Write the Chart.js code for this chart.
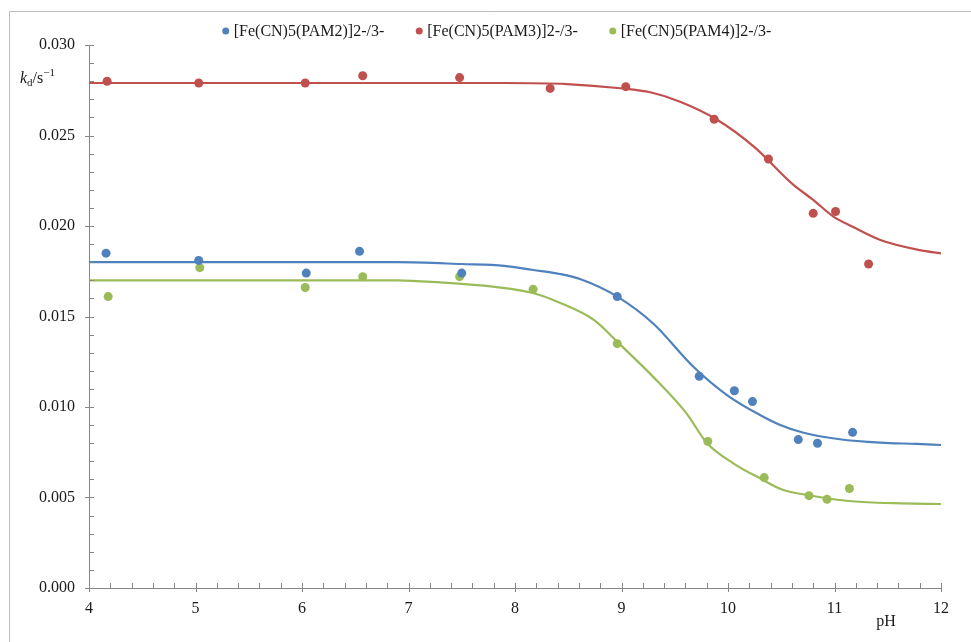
<!DOCTYPE html>
<html>
<head>
<meta charset="utf-8">
<script src="https://cdn.jsdelivr.net/npm/chart.js@4/dist/chart.umd.min.js"></script>
<style>
  html, body { margin: 0; padding: 0; background: #ffffff; }
  #wrap { width: 971px; height: 642px; }
</style>
</head>
<body>
<div id="wrap"><canvas id="c" width="971" height="642"></canvas></div>
<script>
// ---- Data ----
const seriesNames = ['[Fe(CN)5(PAM2)]2-/3-', '[Fe(CN)5(PAM3)]2-/3-', '[Fe(CN)5(PAM4)]2-/3-'];
const seriesColors = ['#4f81bd', '#c0504d', '#9bbb59'];

// measured points
const phPAM2 = [4.16, 5.03, 6.04, 6.54, 7.50, 8.96, 9.73, 10.06, 10.23, 10.66, 10.84, 11.17];
const kPAM2  = [0.0185, 0.0181, 0.0174, 0.0186, 0.0174, 0.0161, 0.0117, 0.0109, 0.0103, 0.0082, 0.0080, 0.0086];

const phPAM3 = [4.17, 5.03, 6.03, 6.57, 7.48, 8.33, 9.04, 9.87, 10.38, 10.80, 11.01, 11.32];
const kPAM3  = [0.0280, 0.0279, 0.0279, 0.0283, 0.0282, 0.0276, 0.0277, 0.0259, 0.0237, 0.0207, 0.0208, 0.0179];

const phPAM4 = [4.18, 5.04, 6.03, 6.57, 7.48, 8.17, 8.96, 9.81, 10.34, 10.76, 10.93, 11.14];
const kPAM4  = [0.0161, 0.0177, 0.0166, 0.0172, 0.0172, 0.0165, 0.0135, 0.0081, 0.0061, 0.0051, 0.0049, 0.0055];

// fitted curves
const fitPhPAM2 = [4.0, 6.9, 7.5, 7.9, 8.17, 8.42, 8.61, 8.96, 9.30, 9.67, 9.99, 10.30, 10.49, 10.71, 11.05, 11.43, 11.77, 12.0];
const fitKPAM2  = [0.0180, 0.0180, 0.0179, 0.0178, 0.01757, 0.01735, 0.01707, 0.01610, 0.01460, 0.01225, 0.01066, 0.00956, 0.00901, 0.00858, 0.00822, 0.00803, 0.00796, 0.00790];

const fitPhPAM3 = [4.0, 7.89, 8.49, 8.99, 9.27, 9.55, 9.89, 10.24, 10.61, 10.80, 10.99, 11.17, 11.43, 11.80, 12.0];
const fitKPAM3  = [0.0279, 0.0279, 0.02784, 0.02761, 0.02739, 0.02687, 0.02590, 0.02440, 0.02230, 0.02144, 0.02052, 0.01996, 0.01923, 0.01867, 0.01849];

const fitPhPAM4 = [4.0, 6.9, 7.3, 7.79, 8.17, 8.42, 8.74, 8.99, 9.30, 9.61, 9.80, 10.05, 10.30, 10.52, 10.74, 11.11, 11.40, 11.62, 12.0];
const fitKPAM4  = [0.0170, 0.0170, 0.01688, 0.01665, 0.01630, 0.01576, 0.01481, 0.01343, 0.01165, 0.00965, 0.00803, 0.00689, 0.00606, 0.00541, 0.00514, 0.00482, 0.00471, 0.00468, 0.00464];

// axes
const xMin = 4, xMax = 12, xMajor = 1, xMinor = 0.2;
const yMin = 0, yMax = 0.030, yMajor = 0.005, yMinor = 0.001;
const xAxisLabel = 'pH';

// ---- build datasets ----
const zip = (xs, ys) => xs.map((x, i) => ({ x: x, y: ys[i] }));
const pointSets = [[phPAM2, kPAM2], [phPAM3, kPAM3], [phPAM4, kPAM4]];
const fitSets = [[fitPhPAM2, fitKPAM2], [fitPhPAM3, fitKPAM3], [fitPhPAM4, fitKPAM4]];

const datasets = [];
pointSets.forEach((s, i) => {
  datasets.push({
    label: seriesNames[i],
    data: zip(s[0], s[1]),
    showLine: false,
    pointRadius: 4.5,
    pointHoverRadius: 4.5,
    pointBackgroundColor: seriesColors[i],
    pointBorderColor: seriesColors[i],
    pointBorderWidth: 0,
    order: 0
  });
});
fitSets.forEach((s, i) => {
  datasets.push({
    label: seriesNames[i] + ' fit',
    data: zip(s[0], s[1]),
    showLine: true,
    pointRadius: 0,
    borderColor: seriesColors[i],
    borderWidth: 2.2,
    cubicInterpolationMode: 'monotone',
    fill: false,
    order: 1
  });
});

const SERIF = '"Liberation Serif", "Times New Roman", serif';
const TEXT = '#1a1a1a';
const AXIS = '#868686';

const decorPlugin = {
  id: 'decor',
  beforeDraw(chart) {
    const ctx = chart.ctx;
    ctx.save();
    ctx.fillStyle = '#ffffff';
    ctx.fillRect(0, 0, chart.width, chart.height);
    // outer frame
    ctx.strokeStyle = '#bdbdbd';
    ctx.lineWidth = 1;
    ctx.beginPath();
    ctx.moveTo(9.5, chart.height + 2);
    ctx.lineTo(9.5, 11.5);
    ctx.lineTo(chart.width + 2, 11.5);
    ctx.stroke();
    ctx.restore();
  },
  afterDraw(chart) {
    const ctx = chart.ctx;
    const xs = chart.scales.x, ys = chart.scales.y;
    const area = chart.chartArea;
    ctx.save();
    ctx.strokeStyle = AXIS;
    ctx.lineWidth = 1;
    // y ticks
    const nyMinor = Math.round((yMax - yMin) / yMinor);
    const every = Math.round(yMajor / yMinor);
    for (let i = 0; i <= nyMinor; i++) {
      const v = yMin + i * yMinor;
      const py = Math.round(ys.getPixelForValue(v)) + 0.5;
      const major = i % every === 0;
      ctx.beginPath();
      ctx.moveTo(area.left - (major ? 4 : 0), py);
      ctx.lineTo(area.left + 5, py);
      ctx.stroke();
    }
    // x ticks
    const nxMinor = Math.round((xMax - xMin) / xMinor);
    const everyX = Math.round(xMajor / xMinor);
    for (let i = 0; i <= nxMinor; i++) {
      const v = xMin + i * xMinor;
      const px = Math.round(xs.getPixelForValue(v)) + 0.5;
      const major = i % everyX === 0;
      ctx.beginPath();
      ctx.moveTo(px, area.bottom + (major ? 4 : 0));
      ctx.lineTo(px, area.bottom - 5);
      ctx.stroke();
    }

    // y axis title: k_d / s^-1
    ctx.fillStyle = TEXT;
    ctx.textBaseline = 'alphabetic';
    ctx.textAlign = 'left';
    let x = 20, base = 83;
    ctx.font = 'italic 16px ' + SERIF;
    ctx.fillText('k', x, base); x += ctx.measureText('k').width;
    ctx.font = '11px ' + SERIF;
    ctx.fillText('d', x, base + 3); x += ctx.measureText('d').width;
    ctx.font = '16px ' + SERIF;
    ctx.fillText('/s', x, base); x += ctx.measureText('/s').width;
    ctx.font = '11px ' + SERIF;
    ctx.fillText('\u22121', x, base - 7);

    // x axis label
    ctx.font = '16px ' + SERIF;
    ctx.textAlign = 'center';
    ctx.fillText(xAxisLabel, 886, 626);

    // legend
    ctx.font = '16px ' + SERIF;
    ctx.textAlign = 'left';
    ctx.textBaseline = 'middle';
    const dotGap = 9, itemGap = 34;
    const widths = seriesNames.map(n => ctx.measureText(n).width);
    let total = 0;
    widths.forEach((w, i) => { total += dotGap + w + (i < widths.length - 1 ? itemGap : 0); });
    let lx = 498 - total / 2;
    const ly = 31;
    seriesNames.forEach((n, i) => {
      ctx.fillStyle = seriesColors[i];
      ctx.beginPath();
      ctx.arc(lx + 1, ly, 3.5, 0, Math.PI * 2);
      ctx.fill();
      ctx.fillStyle = TEXT;
      ctx.fillText(n, lx + dotGap, ly + 1);
      lx += dotGap + widths[i] + itemGap;
    });
    ctx.restore();
  }
};

new Chart(document.getElementById('c'), {
  type: 'scatter',
  data: { datasets: datasets },
  options: {
    responsive: false,
    animation: false,
    devicePixelRatio: 1,
    layout: { padding: { top: 45, right: 30, left: 0, bottom: 0 } },
    plugins: {
      legend: { display: false },
      tooltip: { enabled: false },
      title: { display: false }
    },
    scales: {
      x: {
        type: 'linear',
        min: xMin, max: xMax,
        afterFit(scale) { scale.height = 54; },
        ticks: {
          stepSize: xMajor,
          color: TEXT,
          padding: 3,
          font: { family: SERIF, size: 16 },
          callback: v => String(v)
        },
        grid: { display: true, drawOnChartArea: false, color: 'rgba(0,0,0,0)', tickLength: 8 },
        border: { display: true, color: AXIS, width: 1 }
      },
      y: {
        type: 'linear',
        min: yMin, max: yMax,
        afterFit(scale) { scale.width = 89; },
        ticks: {
          stepSize: yMajor,
          color: TEXT,
          padding: 6,
          font: { family: SERIF, size: 16 },
          callback: v => v.toFixed(3)
        },
        grid: { display: true, drawOnChartArea: false, color: 'rgba(0,0,0,0)', tickLength: 8 },
        border: { display: true, color: AXIS, width: 1 }
      }
    }
  },
  plugins: [decorPlugin]
});
</script>
</body>
</html>
